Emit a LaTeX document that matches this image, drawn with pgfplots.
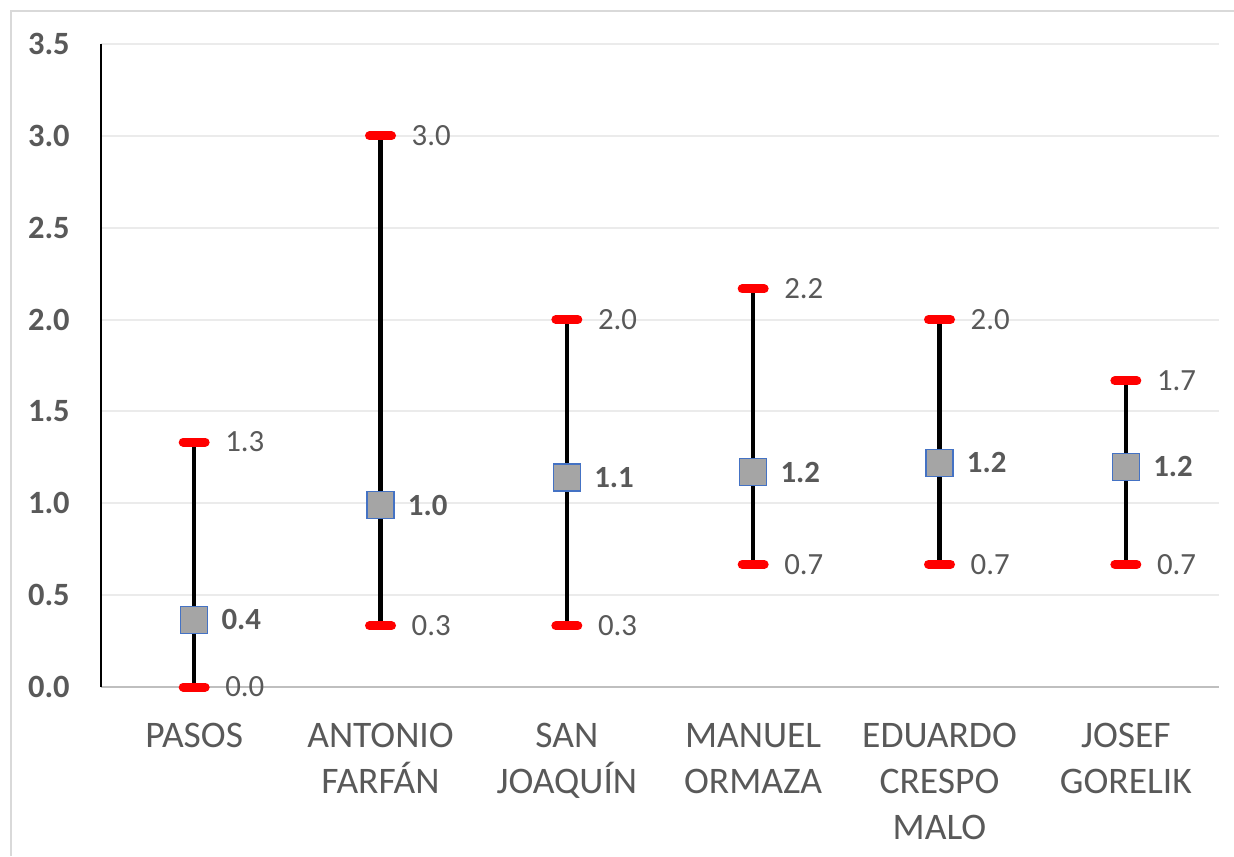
\documentclass[border=0pt]{standalone}
\usepackage{fontspec}
\setmainfont{Carlito}
\usepackage{pgfplots}
\usepackage{pgfplotstable}
\pgfplotsset{compat=1.18}
\definecolor{txt}{HTML}{595959}
\definecolor{gridc}{HTML}{EBEBEB}
\definecolor{bordc}{HTML}{D9D9D9}
\definecolor{xaxc}{HTML}{BFBFBF}
\definecolor{meanfill}{HTML}{A5A5A5}
\definecolor{meanedge}{HTML}{4472C4}
\pgfplotstableread{
x low high mean
0 0.000 1.333 0.365
1 0.333 3.000 0.990
2 0.333 2.000 1.140
3 0.667 2.167 1.170
4 0.667 2.000 1.220
5 0.667 1.667 1.198
}\datatable
\begin{document}
\begin{tikzpicture}
\path[use as bounding box, fill=white] (0,0) rectangle (740.4pt,513.6pt);
\draw[bordc, line width=0.9pt] (6.6pt,0pt) -- (6.6pt,507pt) -- (740.4pt,507pt);
\begin{axis}[
  at={(60.6pt,101.4pt)}, anchor=south west,
  scale only axis, width=670.8pt, height=385.8pt,
  xmin=-0.5, xmax=5.5, ymin=0, ymax=3.5,
  clip=false,
  xtick={0,1,2,3,4,5},
  xticklabels={PASOS, ANTONIO\\FARFÁN, SAN\\JOAQUÍN, MANUEL\\ORMAZA, EDUARDO\\CRESPO\\MALO, JOSEF\\GORELIK},
  ytick={0,0.5,1,1.5,2,2.5,3,3.5},
  /pgf/number format/.cd, fixed, fixed zerofill, precision=1, assume math mode=true,
  /pgfplots/.cd,
  axis x line*=bottom, axis y line*=left,
  x axis line style={draw=xaxc, line width=1.2pt},
  y axis line style={draw=black, line width=0.9pt},
  major tick length=0pt,
  ymajorgrids,
  grid style={draw=gridc, line width=1.2pt},
  yticklabel style={font=\fontsize{19.5}{19.5}\selectfont\bfseries, text=txt, anchor=east, inner sep=0pt, xshift=-18.6pt},
  xticklabel style={font=\fontsize{22.5}{27.5}\selectfont, text=txt, align=center, anchor=north, inner sep=0pt, yshift=-21.5pt},
]
\addplot[draw=none, mark=none, forget plot,
  error bars/.cd, y dir=both, y explicit,
  error bar style={draw=black, line width=2.7pt}, error mark=none]
  table[x=x, y=mean, y error plus expr=\thisrow{high}-\thisrow{mean}, y error minus expr=\thisrow{mean}-\thisrow{low}] {\datatable};
\addplot[only marks, mark=-, mark size=6.6pt,
  mark options={draw=red, line width=5.4pt, line cap=round},
  point meta=explicit, nodes near coords,
  nodes near coords style={anchor=west, inner sep=0pt, xshift=16pt, font=\fontsize{18.5}{18.5}\selectfont, text=txt}]
  table[x=x, y=high, meta=high] {\datatable};
\addplot[only marks, mark=-, mark size=6.6pt,
  mark options={draw=red, line width=5.4pt, line cap=round},
  point meta=explicit, nodes near coords,
  nodes near coords style={anchor=west, inner sep=0pt, xshift=16pt, font=\fontsize{18.5}{18.5}\selectfont, text=txt}]
  table[x=x, y=low, meta=low] {\datatable};
\addplot[only marks, mark=square*, mark size=8.1pt,
  mark options={draw=meanedge, fill=meanfill, line width=0.9pt},
  point meta=explicit, nodes near coords,
  nodes near coords style={anchor=west, inner sep=0pt, xshift=16pt, font=\fontsize{18.5}{18.5}\selectfont\bfseries, text=txt}]
  table[x=x, y=mean, meta=mean] {\datatable};
\end{axis}
\end{tikzpicture}
\end{document}
